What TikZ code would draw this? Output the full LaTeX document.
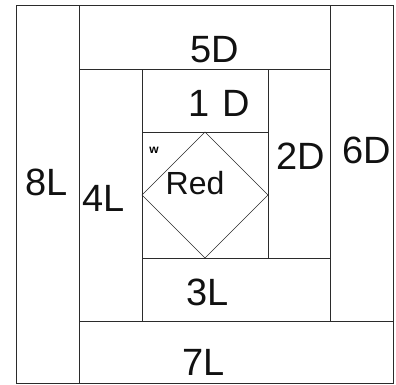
\documentclass[tikz,border=0pt]{standalone}
\usepackage{fontspec}
\setmainfont{Liberation Sans}
\usetikzlibrary{positioning}
\definecolor{quiltLine}{HTML}{2B2B2B}
\definecolor{quiltInk}{HTML}{111111}

\begin{document}
\begin{tikzpicture}[x=1pt, y=-1pt,
    piece/.style={draw=quiltLine, line width=0.9pt},
    tag/.style={font=\fontsize{38}{38}\selectfont, text=quiltInk, inner sep=0pt}]
    \useasboundingbox (0,0) rectangle (396,385);

    % log cabin strips, outside in
    \draw[piece] (16,5) rectangle (79,383);     % 8L
    \draw[piece] (79,5) rectangle (330,69);     % 5D
    \draw[piece] (330,5) rectangle (393,321);   % 6D
    \draw[piece] (79,321) rectangle (393,383);  % 7L
    \draw[piece] (79,69) rectangle (142,321);   % 4L
    \draw[piece] (142,69) rectangle (268,132);  % 1D
    \draw[piece] (268,69) rectangle (330,258);  % 2D
    \draw[piece] (142,258) rectangle (330,321); % 3L

    % centre square with the diamond
    \draw[piece] (142,132) rectangle (268,258);
    \draw[piece, line width=0.7pt] (205,132) -- (268,195) -- (205,258) -- (142,195) -- cycle;

    \node[tag] (five)  at (215,50)  {5D};
    \node[tag] (one)   at (219,103) {1\,\,D};
    \node[tag] (two)   at (301,156) {2D};
    \node[tag] (six)   at (367,150) {6D};
    \node[tag] (eight) at (47,182)  {8L};
    \node[tag] (four)  at (104,198) {4L};
    \node[tag, font=\fontsize{32}{32}\selectfont] (red) at (195,183) {Red};
    \node[tag] (three) at (208,292) {3L};
    \node[tag] (seven) at (204,362) {7L};
    \node[font=\bfseries\fontsize{12}{12}\selectfont, inner sep=0pt] (mark) at (154,150) {w};
\end{tikzpicture}
\end{document}
